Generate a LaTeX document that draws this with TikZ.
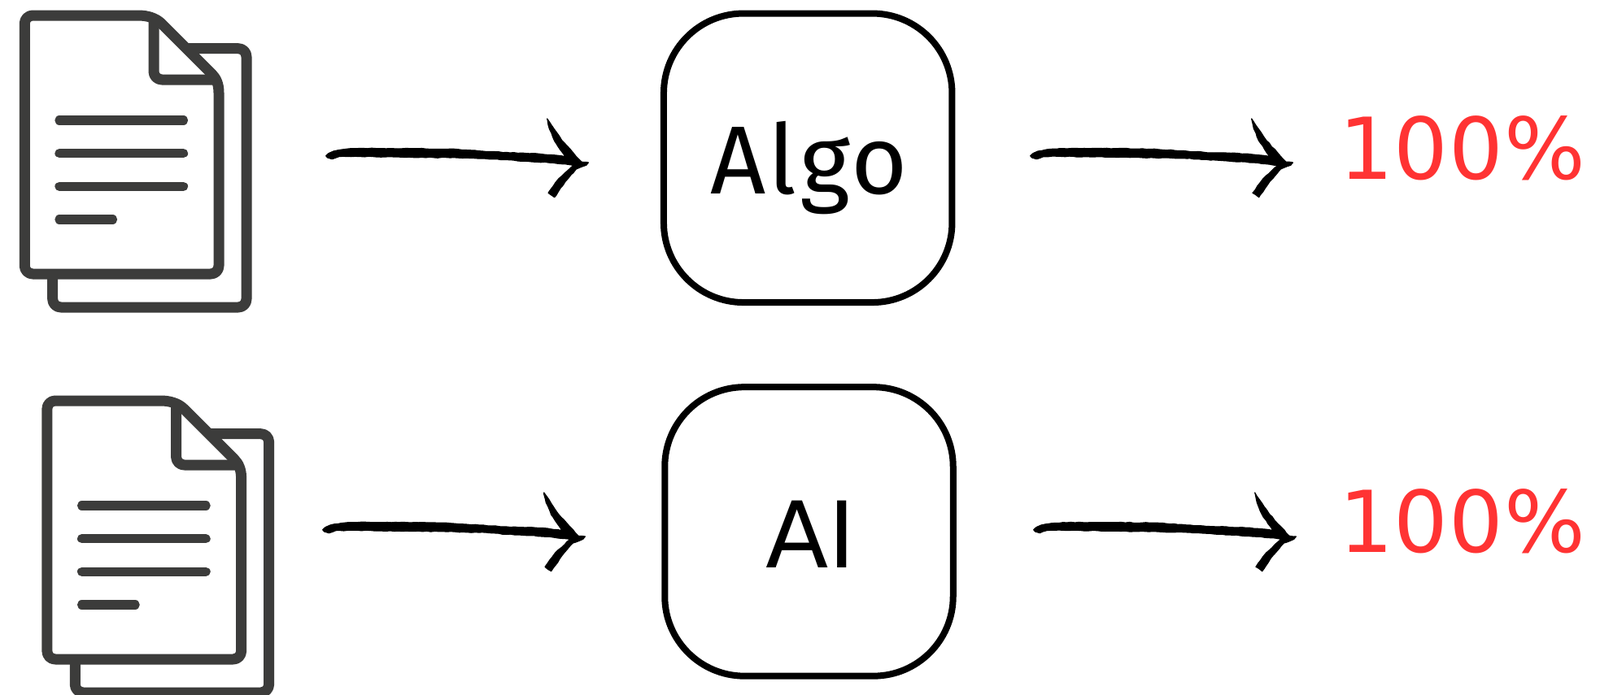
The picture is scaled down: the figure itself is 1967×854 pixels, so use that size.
\documentclass[tikz,border=0pt]{standalone}
\usepackage{fontspec}
\usetikzlibrary{decorations.pathmorphing}
\setmainfont{DejaVu Sans}
\newfontfamily\algofont[LetterSpace=3]{Fira Sans}
\newfontfamily\scorefont[LetterSpace=1]{DejaVu Sans}
\definecolor{icongray}{HTML}{3C3C3B}
\definecolor{scorered}{HTML}{FF3333}
\tikzset{
  x=1pt,y=-1pt,
  procbox/.style={draw=black,line width=8pt,rounded corners=98pt,minimum width=354.5pt,minimum height=355.5pt,inner sep=0pt,outer sep=0pt},
  iconline/.style={draw=icongray,line width=13pt,line join=round},
  textline/.style={draw=icongray,line width=11.3pt,line cap=round},
  lab/.style={anchor=base west,inner sep=0pt,outer sep=0pt},
  boxlabel/.style={lab,font=\fontsize{113}{113}\selectfont},
  score/.style={lab,text=scorered,font=\scorefont\fontsize{105}{105}\selectfont},
  inkstroke/.style={fill=black,draw=black,line width=1.2pt,line join=round,decorate,
    decoration={random steps,segment length=5pt,amplitude=.45pt}},
}
\newcommand{\docicon}[2]{%
  \begin{scope}[shift={(#1,#2)}]
    % back sheet
    \draw[iconline] (229,59.7) -- (293,59.7) .. controls (298.5,59.7) and (303,64.2) .. (303,69.7)
      -- (303,368) .. controls (303,373.5) and (298.5,378) .. (293,378)
      -- (74.7,378) .. controls (69.2,378) and (64.7,373.5) .. (64.7,368) -- (64.7,337);
    % front sheet
    \draw[iconline] (30.3,29) .. controls (30.3,23.5) and (34.8,19) .. (40.3,19) -- (170,19)
      .. controls (181,19) and (191,22) .. (198,28.5) -- (260,90.5)
      .. controls (265.5,96) and (269,103) .. (269,114)
      -- (269,327) .. controls (269,332.5) and (264.5,337) .. (259,337)
      -- (40.3,337) .. controls (34.8,337) and (30.3,332.5) .. (30.3,327) -- cycle;
    % folded corner
    \draw[iconline] (189,21) -- (189,88) .. controls (189,93.5) and (193.5,98) .. (199,98) -- (266,98);
    % text lines
    \draw[textline] (73,148) -- (225.5,148);
    \draw[textline] (73,188.7) -- (225.5,188.7);
    \draw[textline] (73,229.3) -- (225.5,229.3);
    \draw[textline] (73,270) -- (138.5,270);
  \end{scope}}
\newcommand{\handarrow}[2]{%
  \begin{scope}[shift={(#1,#2)},scale=1/3]
    \path[inkstroke] (62,215) -- (72,206) -- (90,198) -- (130,191) -- (170,188) -- (270,188) -- (370,188) -- (520,190)
      -- (640,198) -- (740,204) -- (830,206) -- (900,212) -- (945,218)
      -- (905,160) -- (886,115) -- (878,78) -- (905,118) -- (932,158) -- (975,205) -- (1005,238) -- (1030,240)
      -- (1022,250) -- (985,264) -- (945,310) -- (905,368) -- (882,352) -- (920,300) -- (975,250)
      -- (900,241) -- (800,235) -- (640,225) -- (520,222) -- (370,220) -- (170,217) -- (110,218) -- (85,227) -- (68,222) -- cycle;
  \end{scope}}
\begin{document}
\begin{tikzpicture}
\useasboundingbox (0,0) rectangle (1967,854);
\docicon{0}{0}
\docicon{27.6}{474}
\handarrow{380}{120}
\handarrow{1246}{120}
\handarrow{376}{580}
\handarrow{1250}{580}
\node[procbox] (algobox) at (993.2,194.3) {};
\node[procbox] (aibox) at (994.5,653.9) {};
\node[boxlabel,font=\algofont\fontsize{119}{119}\selectfont] (algo) at (873,238) {Algo};
\node[boxlabel] (ai) at (941,698) {AI};
\node[score] (s1) at (1646,220) {100\%};
\node[score] (s2) at (1646,679.5) {100\%};
\end{tikzpicture}
\end{document}
